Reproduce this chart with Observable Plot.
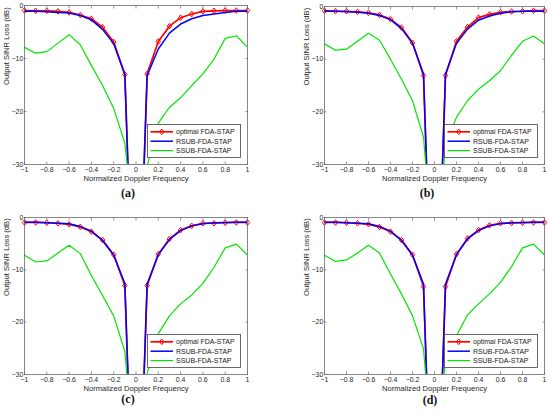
<!DOCTYPE html>
<html>
<head>
<meta charset="utf-8">
<script src="https://cdn.jsdelivr.net/npm/d3@7"></script>
<script src="https://cdn.jsdelivr.net/npm/@observablehq/plot@0.6"></script>
<style>
  body { margin: 0; background: #fff; }
  #wrap { position: relative; width: 550px; height: 414px; overflow: hidden; background: #fff;
          font-family: "Liberation Sans", Arial, sans-serif; }
  .panel { position: absolute; }
  .cap { position: absolute; font-family: "Liberation Serif", "DejaVu Serif", serif; font-weight: bold;
         font-size: 12px; color: #111; transform: translate(-50%, -50%); white-space: nowrap; }
  .legend { position: absolute; }
</style>
</head>
<body>
<div id="wrap"></div>
<script>
// ---------------- data ----------------
const doppler = [-1, -0.9, -0.8, -0.7, -0.6, -0.5, -0.4, -0.3, -0.2, -0.1, 0,
                 0.1, 0.2, 0.3, 0.4, 0.5, 0.6, 0.7, 0.8, 0.9, 1];
const xTicks = [-1, -0.8, -0.6, -0.4, -0.2, 0, 0.2, 0.4, 0.6, 0.8, 1];
const yTicks = [0, -10, -20, -30];
const seriesNames = ["optimal FDA-STAP", "RSUB-FDA-STAP", "SSUB-FDA-STAP"];
const panelLabels = ["(a)", "(b)", "(c)", "(d)"];
const xLabel = "Normalized Doppler Frequency";
const yLabel = "Output SINR Loss (dB)";

const panelA_optimal = [-0.95, -1.0, -1.0, -1.1, -1.3, -1.8, -2.5, -4.1, -6.9, -13.0, -75,
                        -12.9, -6.8, -3.9, -2.3, -1.6, -1.1, -1.0, -0.95, -0.95, -0.95];
const panelA_rsub    = [-1.1, -1.1, -1.2, -1.3, -1.4, -1.9, -2.7, -4.5, -7.2, -13.0, -75,
                        -13.2, -8.2, -5.2, -3.5, -2.5, -1.9, -1.6, -1.3, -1.1, -1.1];
const panelA_ssub    = [-7.9, -9.0, -8.7, -7.1, -5.5, -7.4, -11.3, -15.1, -19.4, -26.0, -45,
                        -30.3, -22.2, -19.2, -17.4, -15.1, -12.9, -10.1, -6.2, -5.7, -7.9];

const panelB_optimal = [-0.8, -0.9, -0.9, -1.0, -1.2, -1.6, -2.4, -4.0, -6.9, -13.1, -75,
                        -13.1, -6.6, -3.9, -2.1, -1.5, -1.1, -0.95, -0.9, -0.8, -0.8];
const panelB_rsub    = [-0.9, -0.9, -1.0, -1.1, -1.3, -1.7, -2.5, -4.2, -7.0, -12.8, -75,
                        -12.8, -7.0, -4.3, -2.6, -1.8, -1.3, -1.0, -0.9, -0.9, -0.9];
const panelB_ssub    = [-7.1, -8.3, -8.1, -6.6, -5.1, -6.4, -10.0, -13.8, -17.9, -24.8, -50,
                        -26.4, -21.0, -17.9, -15.7, -14.1, -12.2, -9.3, -6.6, -5.6, -7.1];

const panelC_optimal = [-0.95, -0.95, -1.0, -1.1, -1.3, -1.8, -2.7, -4.3, -7.1, -13.0, -75,
                        -13.0, -7.0, -4.1, -2.4, -1.6, -1.1, -1.1, -1.0, -0.95, -0.95];
const panelC_rsub    = [-0.9, -0.9, -1.0, -1.1, -1.2, -1.7, -2.6, -4.4, -7.2, -12.6, -75,
                        -12.7, -7.1, -4.2, -2.5, -1.6, -1.2, -1.0, -0.95, -0.9, -0.9];
const panelC_ssub    = [-7.2, -8.5, -8.3, -6.8, -5.3, -6.9, -11.1, -14.9, -18.8, -25.6, -50,
                        -29.8, -22.2, -18.8, -16.5, -14.8, -12.6, -9.5, -5.8, -5.1, -7.2];

const panelD_optimal = [-0.95, -0.95, -1.0, -1.1, -1.3, -1.8, -2.7, -4.3, -7.1, -13.2, -75,
                        -13.2, -7.0, -4.0, -2.4, -1.5, -1.1, -1.05, -1.0, -0.95, -0.95];
const panelD_rsub    = [-0.9, -0.9, -1.0, -1.1, -1.2, -1.7, -2.6, -4.4, -7.2, -12.7, -75,
                        -12.7, -7.1, -4.1, -2.5, -1.6, -1.2, -1.0, -0.95, -0.9, -0.9];
const panelD_ssub    = [-7.2, -8.4, -8.1, -6.8, -5.3, -6.8, -10.8, -14.6, -18.8, -25.1, -50,
                        -27.0, -22.6, -18.6, -16.5, -14.6, -12.4, -9.4, -5.8, -5.1, -7.2];

// ---------------- layout / style ----------------
const colors = ["#ff0000", "#0000ff", "#00e600"];
const widths = [1.7, 1.5, 1.2];
const axisColor = "#6a6a6a";
const font = '"Liberation Sans", Arial, sans-serif';
const markerR = 2.8;

const layout = [
  {left: 0,   top: 0,   w: 250, h: 200, ml: 24, mr: 3, mt: 5,  mb: 36, capX: 128, capY: 193},
  {left: 300, top: 0,   w: 250, h: 200, ml: 24, mr: 6, mt: 6,  mb: 36, capX: 427, capY: 193},
  {left: 0,   top: 207, w: 250, h: 200, ml: 24, mr: 3, mt: 10, mb: 33, capX: 128, capY: 399},
  {left: 300, top: 207, w: 250, h: 200, ml: 24, mr: 6, mt: 10, mb: 33, capX: 430, capY: 400}
];

const panels = [
  [panelA_optimal, panelA_rsub, panelA_ssub],
  [panelB_optimal, panelB_rsub, panelB_ssub],
  [panelC_optimal, panelC_rsub, panelC_ssub],
  [panelD_optimal, panelD_rsub, panelD_ssub]
];

const fmt = d => {
  const v = Math.round(d * 10) / 10;
  return (v < 0 ? "\u2212" : "") + String(Math.abs(v));
};

// MATLAB-like diamond marker
const diamond = {
  draw(context, size) {
    const r = Math.sqrt(size / Math.PI);
    const w = r * 0.8;
    context.moveTo(0, -r);
    context.lineTo(w, 0);
    context.lineTo(0, r);
    context.lineTo(-w, 0);
    context.closePath();
  }
};

const wrap = document.getElementById("wrap");

panels.forEach((series, pi) => {
  const L = layout[pi];
  const data = series.map((vals, si) => doppler.map((x, i) => ({x, y: vals[i], s: seriesNames[si]})));
  const tickStyle = {stroke: axisColor, strokeWidth: 0.7};
  const chart = Plot.plot({
    width: L.w, height: L.h,
    marginLeft: L.ml, marginRight: L.mr, marginTop: L.mt, marginBottom: L.mb,
    x: {domain: [-1, 1]},
    y: {domain: [-30, 0]},
    style: {fontFamily: font, fontSize: "6.9px", color: "#262626", background: "transparent", overflow: "visible"},
    marks: [
      Plot.line(data[0], {x: "x", y: "y", stroke: colors[0], strokeWidth: widths[0], clip: true}),
      Plot.dot(data[0].filter(d => d.y >= -30), {x: "x", y: "y", symbol: diamond, r: markerR,
        stroke: colors[0], fill: "none", strokeWidth: 1.0}),
      Plot.line(data[1], {x: "x", y: "y", stroke: colors[1], strokeWidth: widths[1], clip: true}),
      Plot.line(data[2], {x: "x", y: "y", stroke: colors[2], strokeWidth: widths[2], clip: true}),
      Plot.frame({stroke: axisColor, strokeWidth: 0.8}),
      Plot.axisX({anchor: "bottom", ticks: xTicks, tickFormat: fmt, tickSize: 2.5, dy: -2.5,
        tickPadding: 2.2, label: null, ...tickStyle}),
      Plot.axisX({anchor: "top", ticks: xTicks, tickFormat: () => "", tickSize: 2.5, dy: 2.5,
        tickPadding: 0, label: null, ...tickStyle}),
      Plot.axisY({anchor: "left", ticks: yTicks, tickFormat: fmt, tickSize: 2.5, dx: 2.5,
        tickPadding: 1.2, label: null, ...tickStyle}),
      Plot.axisY({anchor: "right", ticks: yTicks, tickFormat: () => "", tickSize: 2.5, dx: -2.5,
        tickPadding: 0, label: null, ...tickStyle}),
      Plot.text([xLabel], {frameAnchor: "bottom", dy: 16, text: d => d, fontSize: 7.6, fill: "#262626"}),
      Plot.text([yLabel], {frameAnchor: "left", dx: -18, rotate: -90, text: d => d, fontSize: 7.6, fill: "#262626"})
    ]
  });
  chart.classList.add("panel");
  chart.style.left = L.left + "px";
  chart.style.top = L.top + "px";
  wrap.appendChild(chart);

  // legend (MATLAB style box, inside lower right of the axes)
  const lw = 94, lh = 34;
  const frameRight = L.left + L.w - L.mr;
  const frameBottom = L.top + L.h - L.mb;
  const lg = d3.create("svg").attr("class", "legend").attr("width", lw).attr("height", lh)
    .style("left", (frameRight - 6 - lw) + "px").style("top", (frameBottom - 6 - lh) + "px");
  lg.append("rect").attr("x", 0.5).attr("y", 0.5).attr("width", lw - 1).attr("height", lh - 1)
    .attr("fill", "#fff").attr("stroke", "#444").attr("stroke-width", 0.8);
  seriesNames.forEach((name, si) => {
    const cy = 7.8 + si * 9.4;
    lg.append("line").attr("x1", 3.5).attr("x2", 26).attr("y1", cy).attr("y2", cy)
      .attr("stroke", colors[si]).attr("stroke-width", widths[si]);
    if (si === 0) {
      const p = d3.path(); diamond.draw(p, Math.PI * markerR * markerR);
      lg.append("path").attr("d", p.toString()).attr("transform", `translate(14.75,${cy})`)
        .attr("fill", "none").attr("stroke", colors[0]).attr("stroke-width", 1.0);
    }
    lg.append("text").attr("x", 29).attr("y", cy).attr("dy", "0.35em")
      .attr("font-family", font).attr("font-size", 7).attr("fill", "#1a1a1a").text(name);
  });
  wrap.appendChild(lg.node());

  const cap = document.createElement("div");
  cap.className = "cap";
  cap.style.left = L.capX + "px";
  cap.style.top = L.capY + "px";
  cap.textContent = panelLabels[pi];
  wrap.appendChild(cap);
});
</script>
</body>
</html>
